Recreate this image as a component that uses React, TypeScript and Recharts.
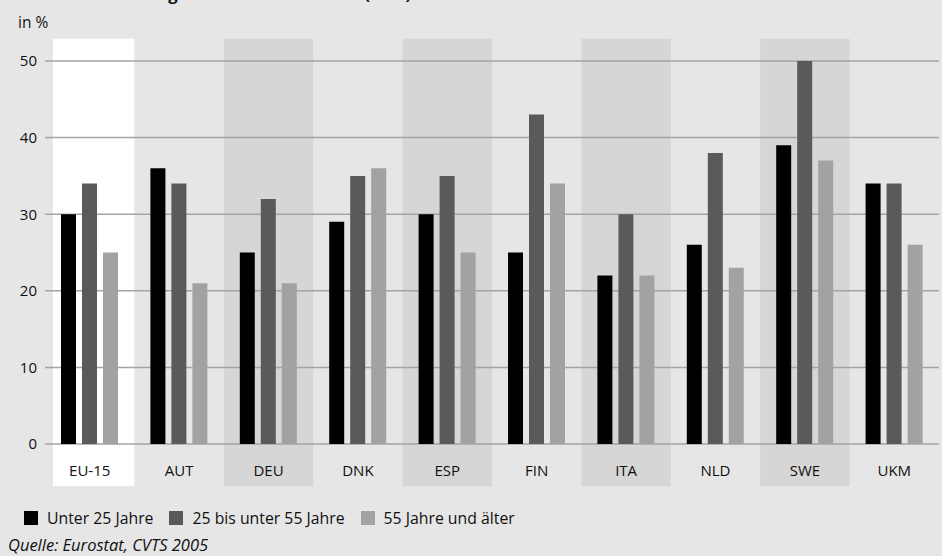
import { BarChart, Bar, XAxis, YAxis, CartesianGrid, ReferenceArea } from "recharts";

const COUNTRIES = ["EU-15", "AUT", "DEU", "DNK", "ESP", "FIN", "ITA", "NLD", "SWE", "UKM"];
const UNDER_25 = [30, 36, 25, 29, 30, 25, 22, 26, 39, 34];
const AGE_25_55 = [34, 34, 32, 35, 35, 43, 30, 38, 50, 34];
const OVER_55 = [25, 21, 21, 36, 25, 34, 22, 23, 37, 26];
const Y_TICKS = [0, 10, 20, 30, 40, 50];

const SERIES = [
  { key: "u25", name: "Unter 25 Jahre", color: "#000000" },
  { key: "mid", name: "25 bis unter 55 Jahre", color: "#5a5a5a" },
  { key: "o55", name: "55 Jahre und älter", color: "#a2a2a2" },
];

// shaded columns behind the bars
const WHITE_BAND = ["EU-15"];
const GREY_BANDS = ["DEU", "ESP", "ITA", "SWE"];

const FONT = "'Open Sans', sans-serif";
const BG = "#e6e6e6";

const data = COUNTRIES.map((c, i) => ({
  country: c,
  u25: UNDER_25[i],
  mid: AGE_25_55[i],
  o55: OVER_55[i],
}));

// eslint-disable-next-line @typescript-eslint/no-explicit-any
function CountryTick(props: any) {
  const { x, payload } = props;
  return (
    <text x={x} y={472} textAnchor="middle" dominantBaseline="middle" fontSize={15} fontFamily={FONT} fill="#111">
      {payload.value}
    </text>
  );
}

// the white EU-15 column starts a little inside its slot
// eslint-disable-next-line @typescript-eslint/no-explicit-any
function WhiteBand(props: any) {
  const { x, y, width, height } = props;
  return <rect x={x + 8} y={y} width={width - 8} height={height} fill="#ffffff" />;
}

export default function App() {
  return (
    <div style={{ position: "absolute", left: 0, top: 0, width: 942, height: 556, background: BG, overflow: "hidden", fontFamily: FONT }}>
      <div style={{ position: "absolute", left: 139, top: -18, fontSize: 16.6, fontWeight: 700, color: "#111", whiteSpace: "nowrap" }}>
        ausgewählten EU-Staaten* (in %)
      </div>
      <div style={{ position: "absolute", left: 18, top: 11, fontSize: 15.5, color: "#111" }}>in %</div>

      <div style={{ position: "absolute", left: 0, top: 0 }}>
        <BarChart width={942} height={500} data={data} margin={{ top: 61, right: 3, left: 0, bottom: 0 }} barSize={15} barGap={6}>
          {WHITE_BAND.map(c => (
            <ReferenceArea key={c} x1={c} x2={c} y1={-5.5} y2={52.9} ifOverflow="visible" shape={<WhiteBand />} zIndex={-200} />
          ))}
          {GREY_BANDS.map(c => (
            <ReferenceArea key={c} x1={c} x2={c} y1={-5.5} y2={52.9} ifOverflow="visible" fill="#d6d6d6" fillOpacity={1} stroke="none" zIndex={-200} />
          ))}
          <CartesianGrid vertical={false} stroke="#a3a3a3" strokeWidth={1.5} />
          <XAxis dataKey="country" height={56} axisLine={false} tickLine={false} tick={<CountryTick />} interval={0} />
          <YAxis
            width={45}
            domain={[0, 50]}
            ticks={Y_TICKS}
            axisLine={false}
            tickLine={false}
            tick={{ fontSize: 15, fill: "#111", fontFamily: FONT }}
          />
          {SERIES.map(s => (
            <Bar key={s.key} dataKey={s.key} name={s.name} fill={s.color} isAnimationActive={false} />
          ))}
        </BarChart>
      </div>

      <div style={{ position: "absolute", left: 24, top: 507, display: "flex", alignItems: "center", fontSize: 15.8, color: "#111" }}>
        {SERIES.map((s, i) => (
          <span key={s.key} style={{ display: "flex", alignItems: "center", marginRight: i < 2 ? 16 : 0 }}>
            <span style={{ display: "inline-block", width: 14, height: 14, background: s.color, marginRight: 9 }} />
            {s.name}
          </span>
        ))}
      </div>
      <div style={{ position: "absolute", left: 8, top: 533, fontSize: 16.5, fontStyle: "italic", color: "#111" }}>
        Quelle: Eurostat, CVTS 2005
      </div>
    </div>
  );
}
